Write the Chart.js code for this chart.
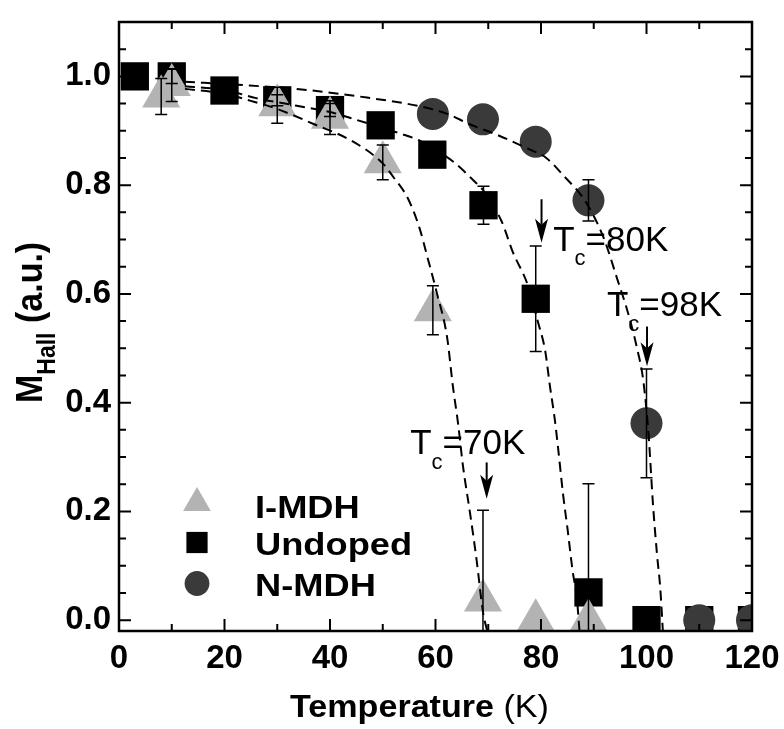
<!DOCTYPE html>
<html><head><meta charset="utf-8">
<script src="https://cdn.jsdelivr.net/npm/chart.js@4.4.0/dist/chart.umd.min.js"></script>
<style>html,body{margin:0;padding:0;background:#fff;}#wrap{width:784px;height:729px;}</style>
</head><body><div id="wrap"><canvas id="c" width="784" height="729"></canvas></div>
<script>
// ---- axis ticks ----
const xTickLabels = [0, 20, 40, 60, 80, 100, 120];
const xMinorTicks = [10, 30, 50, 70, 90, 110];
const yTickLabels = [0, 0.2, 0.4, 0.6, 0.8, 1.0];
const yMinorTicks = [0.05, 0.1, 0.15, 0.25, 0.3, 0.35, 0.45, 0.5, 0.55, 0.65, 0.7, 0.75, 0.85, 0.9, 0.95, 1.05];

// ---- measured data ----
const seriesNames = ['I-MDH', 'Undoped', 'N-MDH'];
const iTemp = [8, 10, 30, 40, 50, 59.5, 69, 79, 89];
const iM    = [0.963, 0.984, 0.947, 0.924, 0.842, 0.570, 0.036, 0.0, 0.0];
const iErr  = [0.033, 0.03, 0.033, 0.031, 0.032, 0.045, 0.166, 0, 0];

const uTemp = [3, 10, 20, 30, 40, 49.6, 59.4, 69.1, 79, 89, 100, 110, 120];
const uM    = [1.0, 1.0, 0.974, 0.956, 0.938, 0.91, 0.856, 0.763, 0.591, 0.051, 0.0, 0.0, 0.0];
const uErr  = [0, 0.013, 0, 0.01, 0.012, 0, 0, 0.035, 0.097, 0.2, 0, 0, 0];

const nTemp = [59.5, 69, 79, 89, 100, 110, 120];
const nM    = [0.931, 0.921, 0.88, 0.772, 0.362, 0.0, 0.0];
const nErr  = [0, 0, 0, 0.038, 0.1, 0, 0];

// ---- dashed guide curves ----
const iFitT = [12.5, 20, 25, 30, 37, 44, 50, 52, 54.8, 57, 58.4, 60.3, 62.2, 63.3, 64.3, 65.2, 66.5, 67.8, 69, 69.8];
const iFitM = [0.977, 0.968, 0.955, 0.94, 0.912, 0.882, 0.84, 0.815, 0.775, 0.72, 0.67, 0.6, 0.52, 0.43, 0.36, 0.284, 0.2, 0.11, 0.015, -0.02];
const uFitT = [12.5, 20, 26, 33.7, 40.6, 45, 50, 53.3, 57, 60, 63.5, 67.8, 69, 72.5, 74.7, 77.5, 79.4, 80.8, 81.7, 82.6, 83.2, 84.2, 85, 86, 86.8, 87.3];
const uFitM = [0.982, 0.975, 0.96, 0.946, 0.933, 0.92, 0.905, 0.895, 0.882, 0.865, 0.842, 0.803, 0.791, 0.734, 0.676, 0.616, 0.549, 0.495, 0.43, 0.37, 0.32, 0.23, 0.17, 0.09, 0.04, -0.02];
const nFitT = [12.5, 23.5, 35.6, 47, 57, 62, 66.5, 71.8, 77.5, 81, 84.5, 87.8, 89.9, 92, 94.4, 96.5, 98.2, 99.4, 100.4, 101.2, 102, 102.6, 103.1];
const nFitM = [0.99, 0.984, 0.975, 0.961, 0.945, 0.932, 0.912, 0.892, 0.867, 0.85, 0.815, 0.779, 0.745, 0.7, 0.629, 0.565, 0.5, 0.44, 0.34, 0.217, 0.12, 0.06, -0.02];

// ---- Tc annotations (anchored in data coordinates) ----
const tcLabels   = ['=70K', '=80K', '=98K'];
const tcArrowT   = [69.7, 80.1, 100.1];
const tcArrowTop = [0.29, 0.774, 0.54];
const tcArrowTip = [0.223, 0.694, 0.467];
const tcTextT    = [55.2, 82.3, 92.5];
const tcTextM    = [0.305, 0.679, 0.5585];

const FAM = "'Liberation Sans', Arial, Helvetica, sans-serif";
const pts = (xs, ys) => xs.map((x, i) => ({x: x, y: ys[i]}));

function sText(ctx, txt, x, y, font, sx) {
  ctx.save();
  ctx.font = font;
  ctx.textAlign = 'left';
  ctx.textBaseline = 'alphabetic';
  ctx.translate(x, y);
  ctx.scale(sx, 1);
  ctx.fillText(txt, 0, 0);
  const w = ctx.measureText(txt).width * sx;
  ctx.restore();
  return w;
}

const errorBars = {
  id: 'errorBars',
  afterDatasetsDraw(chart) {
    const ctx = chart.ctx, xs = chart.scales.x, ys = chart.scales.y, a = chart.chartArea;
    ctx.save();
    ctx.beginPath(); ctx.rect(a.left, a.top, a.right - a.left, a.bottom - a.top); ctx.clip();
    ctx.strokeStyle = '#000'; ctx.lineWidth = 1.5;
    [[iTemp, iM, iErr], [uTemp, uM, uErr], [nTemp, nM, nErr]].forEach(([T, M, E]) => {
      T.forEach((t, i) => {
        if (!E[i]) return;
        const px = xs.getPixelForValue(t);
        const y1 = ys.getPixelForValue(M[i] + E[i]);
        const y2 = ys.getPixelForValue(M[i] - E[i]);
        ctx.beginPath();
        ctx.moveTo(px, y1); ctx.lineTo(px, y2);
        ctx.moveTo(px - 6, y1); ctx.lineTo(px + 6, y1);
        ctx.moveTo(px - 6, y2); ctx.lineTo(px + 6, y2);
        ctx.stroke();
      });
    });
    ctx.restore();
  }
};

const decorations = {
  id: 'decorations',
  afterDraw(chart) {
    const ctx = chart.ctx, xs = chart.scales.x, ys = chart.scales.y, a = chart.chartArea;
    ctx.save();
    // frame
    ctx.strokeStyle = '#000'; ctx.lineWidth = 2.5;
    ctx.strokeRect(a.left, a.top, a.right - a.left, a.bottom - a.top);
    // inward ticks on all four sides
    ctx.lineWidth = 2;
    ctx.beginPath();
    const tickX = (v, len) => { const p = xs.getPixelForValue(v);
      ctx.moveTo(p, a.bottom); ctx.lineTo(p, a.bottom - len);
      ctx.moveTo(p, a.top); ctx.lineTo(p, a.top + len); };
    const tickY = (v, len) => { const p = ys.getPixelForValue(v);
      ctx.moveTo(a.left, p); ctx.lineTo(a.left + len, p);
      ctx.moveTo(a.right, p); ctx.lineTo(a.right - len, p); };
    xTickLabels.forEach(v => tickX(v, 12));
    xMinorTicks.forEach(v => tickX(v, 7));
    yTickLabels.forEach(v => tickY(v, 12));
    yMinorTicks.forEach(v => tickY(v, 7));
    ctx.stroke();

    ctx.fillStyle = '#000';
    // Tc annotations
    tcLabels.forEach((lab, i) => {
      const ax = xs.getPixelForValue(tcArrowT[i]);
      const y0 = ys.getPixelForValue(tcArrowTop[i]);
      const y1 = ys.getPixelForValue(tcArrowTip[i]);
      ctx.lineWidth = 2;
      ctx.beginPath(); ctx.moveTo(ax, y0); ctx.lineTo(ax, y1 - 18); ctx.stroke();
      ctx.beginPath();
      ctx.moveTo(ax, y1); ctx.lineTo(ax - 6.5, y1 - 24); ctx.lineTo(ax, y1 - 18); ctx.lineTo(ax + 6.5, y1 - 24);
      ctx.closePath(); ctx.fill();
      const tx = xs.getPixelForValue(tcTextT[i]);
      const ty = ys.getPixelForValue(tcTextM[i]);
      let w = sText(ctx, 'T', tx, ty, `35px ${FAM}`, 1);
      w += sText(ctx, 'c', tx + w, ty + 14.5, `22px ${FAM}`, 1);
      sText(ctx, lab, tx + w, ty, `35px ${FAM}`, 1);
    });

    // legend
    const legY = [503, 542.5, 583.5];
    const legText = [518, 555, 596];
    const styles = [['triangle', 16, '#b3b3b3'], ['rect', 15, '#000'], ['circle', 12.4, '#3a3a3a']];
    styles.forEach((s, i) => {
      ctx.fillStyle = s[2];
      Chart.helpers.drawPoint(ctx, {pointStyle: s[0], radius: s[1], rotation: 0, borderWidth: 0}, 197, legY[i]);
      ctx.fillStyle = '#000';
      sText(ctx, seriesNames[i], 255, legText[i], `bold 31px ${FAM}`, 1.17);
    });

    // x axis title
    let w = sText(ctx, 'Temperature', 290, 717, `bold 31px ${FAM}`, 1.1);
    sText(ctx, ' (K)', 290 + w, 717, `31px ${FAM}`, 1.1);

    // y axis title (rotated, with subscript)
    ctx.save();
    ctx.translate(41.7, 403);
    ctx.scale(1.1, 1);
    ctx.rotate(-Math.PI / 2);
    ctx.textBaseline = 'alphabetic'; ctx.textAlign = 'left';
    ctx.font = `bold 34px ${FAM}`;
    ctx.fillText('M', 0, 0);
    let p = ctx.measureText('M').width;
    ctx.font = `bold 23px ${FAM}`;
    ctx.fillText('Hall', p, 12);
    p += ctx.measureText('Hall').width;
    ctx.font = `bold 34px ${FAM}`;
    ctx.fillText(' (a.u.)', p, 0);
    ctx.restore();

    ctx.restore();
  }
};

const fitStyle = {showLine: true, borderColor: '#000', borderWidth: 2, borderDash: [10, 6], pointRadius: 0,
  pointHoverRadius: 0, cubicInterpolationMode: 'monotone', order: 0, clip: 0, fill: false};

new Chart(document.getElementById('c').getContext('2d'), {
  type: 'scatter',
  data: {
    datasets: [
      Object.assign({label: 'fit ' + seriesNames[0], data: pts(iFitT, iFitM)}, fitStyle),
      Object.assign({label: 'fit ' + seriesNames[1], data: pts(uFitT, uFitM)}, fitStyle),
      Object.assign({label: 'fit ' + seriesNames[2], data: pts(nFitT, nFitM)}, fitStyle),
      {label: seriesNames[0], data: pts(iTemp, iM), pointStyle: 'triangle', pointRadius: 22, pointHoverRadius: 22,
        backgroundColor: '#b3b3b3', pointBackgroundColor: '#b3b3b3', borderWidth: 0, pointBorderWidth: 0, order: 1, clip: 0},
      {label: seriesNames[2], data: pts(nTemp, nM), pointStyle: 'circle', pointRadius: 16, pointHoverRadius: 16,
        backgroundColor: '#3a3a3a', pointBackgroundColor: '#3a3a3a', borderWidth: 0, pointBorderWidth: 0, order: 2, clip: 0},
      {label: seriesNames[1], data: pts(uTemp, uM), pointStyle: 'rect', pointRadius: 20, pointHoverRadius: 20,
        backgroundColor: '#000', pointBackgroundColor: '#000', borderWidth: 0, pointBorderWidth: 0, order: 3, clip: 0}
    ]
  },
  options: {
    responsive: false, animation: false, devicePixelRatio: 1, events: [],
    layout: {padding: {top: 13, right: 32, left: 0, bottom: 0}},
    plugins: {legend: {display: false}, tooltip: {enabled: false}, title: {display: false}},
    scales: {
      x: {
        type: 'linear', position: 'bottom', min: 0, max: 120,
        afterBuildTicks: s => { s.ticks = xTickLabels.map(v => ({value: v})); },
        afterFit: s => { s.height = 98; s.paddingLeft = 0; s.paddingRight = 0; },
        grid: {display: false, drawTicks: false}, border: {display: false},
        ticks: {padding: 8, color: '#000', autoSkip: false, maxRotation: 0, minRotation: 0,
          font: {family: FAM, size: 33, weight: 'bold'}, callback: v => String(v)}
      },
      y: {
        type: 'linear', position: 'left', min: -0.02, max: 1.1,
        afterBuildTicks: s => { s.ticks = yTickLabels.map(v => ({value: v})); },
        afterFit: s => { s.width = 119; s.paddingTop = 0; s.paddingBottom = 0; },
        grid: {display: false, drawTicks: false}, border: {display: false},
        ticks: {padding: 8, color: '#000', autoSkip: false,
          font: {family: FAM, size: 33, weight: 'bold'}, callback: v => Number(v).toFixed(1)}
      }
    }
  },
  plugins: [errorBars, decorations]
});
</script>
</body></html>
